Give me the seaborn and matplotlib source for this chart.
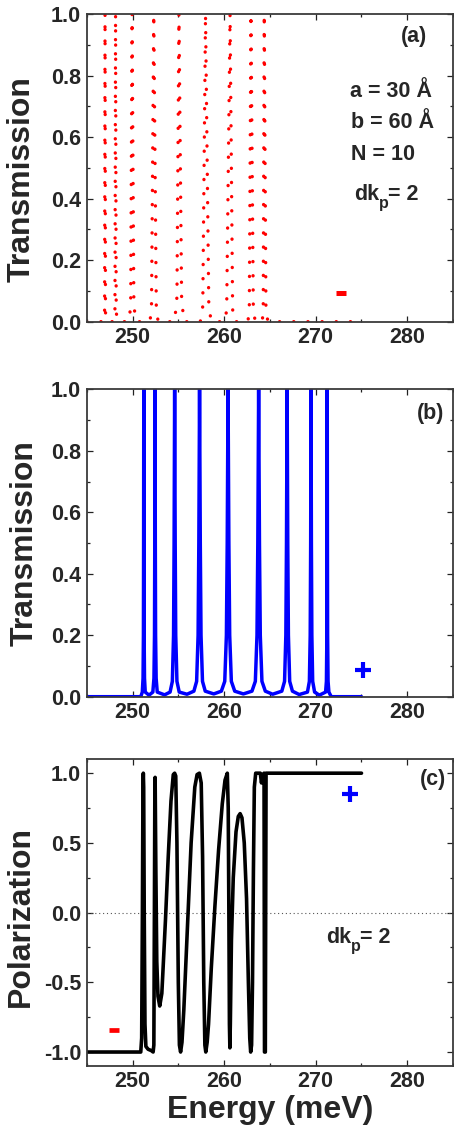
import matplotlib
matplotlib.use("Agg")
import matplotlib.pyplot as plt
import seaborn as sns
from matplotlib.ticker import MultipleLocator, FixedLocator, FixedFormatter

# ---------------- data ----------------
# panel (a): transmission, "-" spin (red dotted)
energy_a = [245.0, 246.85, 246.95, 247.0, 247.05, 247.2, 247.9, 248.08, 248.15, 248.22, 248.4,
            249.6, 249.8, 249.95, 250.15, 250.4, 251.9, 252.07, 252.32, 252.6, 252.8,
            254.6, 254.85, 255.07, 255.36, 255.6, 257.4, 257.67, 257.97, 258.33, 258.6,
            260.1, 260.28, 260.65, 260.93, 261.1, 262.6, 262.75, 262.93, 263.19, 263.4,
            264.15, 264.27, 264.38, 264.57, 264.8, 275.0]
trans_a = [0.0, 0.0, 0.03, 1.0, 0.03, 0.0, 0.0, 0.03, 1.0, 0.03, 0.0,
           0.0, 0.05, 1.0, 0.05, 0.0, 0.0, 0.04, 1.0, 0.04, 0.0,
           0.0, 0.08, 1.0, 0.08, 0.0, 0.0, 0.05, 1.0, 0.05, 0.0,
           0.0, 0.04, 1.0, 0.04, 0.0, 0.0, 0.04, 1.0, 0.04, 0.0,
           0.0, 0.03, 1.0, 0.03, 0.0, 0.0]

# panel (b): transmission, "+" spin (blue)
energy_b = [245.0, 250.9, 251.07, 251.15, 251.19, 251.21, 251.23, 251.25, 251.27, 251.31, 251.39,
            251.8, 252.22, 252.34, 252.40, 252.43, 252.46, 252.49, 252.52, 252.58, 252.70,
            253.5, 254.1, 254.35, 254.48, 254.54, 254.6, 254.66, 254.72, 254.85, 255.1,
            255.95, 256.7, 257.0, 257.16, 257.24, 257.32, 257.40, 257.48, 257.64, 257.94,
            258.87, 259.7, 260.07, 260.25, 260.34, 260.43, 260.52, 260.61, 260.79, 261.16,
            262.1, 263.04, 263.41, 263.59, 263.68, 263.77, 263.86, 263.95, 264.13, 264.5,
            265.3, 266.3, 266.6, 266.74, 266.81, 266.88, 266.95, 267.02, 267.16, 267.46,
            268.2, 269.1, 269.31, 269.40, 269.45, 269.49, 269.53, 269.58, 269.67, 269.88,
            270.4, 271.08, 271.17, 271.22, 271.24, 271.26, 271.28, 271.30, 271.35, 271.44,
            271.7, 275.0]
trans_b = [0.0, 0.0, 0.015, 0.06, 0.2, 0.5, 1.0, 0.5, 0.2, 0.06, 0.015,
           0.005, 0.015, 0.06, 0.2, 0.5, 1.0, 0.5, 0.2, 0.06, 0.015,
           0.006, 0.015, 0.05, 0.2, 0.5, 1.0, 0.5, 0.2, 0.05, 0.015,
           0.008, 0.018, 0.05, 0.2, 0.5, 1.0, 0.5, 0.2, 0.05, 0.018,
           0.009, 0.018, 0.05, 0.2, 0.5, 1.0, 0.5, 0.2, 0.05, 0.018,
           0.009, 0.018, 0.05, 0.2, 0.5, 1.0, 0.5, 0.2, 0.05, 0.018,
           0.008, 0.018, 0.05, 0.2, 0.5, 1.0, 0.5, 0.2, 0.05, 0.018,
           0.007, 0.015, 0.05, 0.2, 0.5, 1.0, 0.5, 0.2, 0.05, 0.015,
           0.005, 0.015, 0.05, 0.2, 0.5, 1.0, 0.5, 0.2, 0.05, 0.015,
           0.0, 0.0]

# panel (c): spin polarization (black)
energy_c = [245.0, 250.9, 251.0, 251.08, 251.14, 251.18, 251.22, 251.28, 251.36, 251.46,
            251.7, 252.06, 252.25, 252.33, 252.39, 252.44, 252.47, 252.55, 252.65, 252.78,
            252.97, 253.2, 253.3, 253.6, 253.9, 254.2, 254.45, 254.6, 254.72, 254.85,
            255.0, 255.12, 255.25, 255.4, 255.6, 256.0, 256.4, 256.8, 257.05, 257.3,
            257.5, 257.65, 257.78, 257.9, 258.0, 258.15, 258.3, 258.6, 259.0, 259.4,
            259.8, 260.1, 260.35, 260.45, 260.52, 260.58, 260.63, 260.68, 260.8, 261.0,
            261.3, 261.55, 261.75, 261.95, 262.2, 262.45, 262.65, 262.8, 262.9, 263.0,
            263.1, 263.2, 263.3, 263.45, 263.95, 264.08, 264.22, 264.36, 264.41, 264.5,
            264.58, 275.0]
pol_c = [-1.0, -1.0, -0.9, 0.0, 0.9, 1.0, 0.9, 0.0, -0.8, -0.96,
         -0.98, -0.99, -1.0, -0.95, 0.0, 0.9, 0.97, 0.3, -0.35, -0.6,
         -0.67, -0.58, -0.45, -0.05, 0.4, 0.8, 0.99, 1.0, 0.98, 0.5,
         -0.5, -0.95, -1.0, -0.93, -0.7, -0.1, 0.5, 0.9, 0.99, 1.0,
         0.93, 0.4, -0.5, -0.95, -1.0, -0.93, -0.8, -0.4, 0.05, 0.45,
         0.78, 0.95, 1.0, 0.75, 0.0, -0.8, -0.97, -0.8, -0.2, 0.25,
         0.58, 0.69, 0.71, 0.68, 0.5, 0.1, -0.5, -0.9, -1.0, -0.95,
         -0.5, 0.3, 0.9, 1.0, 1.0, 0.93, 0.99, 1.0, -1.0, -1.0,
         1.0, 1.0]

# spin symbols
minus_a = (272.8, 0.092)
plus_b = (275.2, 0.087)
minus_c = (248.0, -0.843)
plus_c = (273.73, 0.85)

x_ticks = [250, 260, 270, 280]
x_ticklabels = ["250", "260", "270", "280"]
yt_trans = [0.0, 0.2, 0.4, 0.6, 0.8, 1.0]
yt_trans_labels = ["0.0", "0.2", "0.4", "0.6", "0.8", "1.0"]
yt_pol = [-1.0, -0.5, 0.0, 0.5, 1.0]
yt_pol_labels = ["-1.0", "-0.5", "0.0", "0.5", "1.0"]

# ---------------- style ----------------
sns.set_style("ticks")
plt.rcParams["font.family"] = ["Liberation Sans", "DejaVu Sans"]
plt.rcParams["font.weight"] = "bold"
plt.rcParams["axes.unicode_minus"] = False

TICK_FS = 15.5
LABEL_FS = 23
ANN_FS = 15.5

fig = plt.figure(figsize=(4.54, 11.31), dpi=100)
ax_a = fig.add_axes([0.191, 0.7156, 0.807, 0.272])
ax_b = fig.add_axes([0.191, 0.3840, 0.807, 0.2718])
ax_c = fig.add_axes([0.191, 0.0575, 0.807, 0.2712])


def style_axis(ax, yt, ytl, yminor):
    ax.set_xlim(245, 285)
    ax.xaxis.set_major_locator(FixedLocator(x_ticks))
    ax.xaxis.set_major_formatter(FixedFormatter(x_ticklabels))
    ax.xaxis.set_minor_locator(MultipleLocator(5))
    ax.yaxis.set_major_locator(FixedLocator(yt))
    ax.yaxis.set_major_formatter(FixedFormatter(ytl))
    ax.yaxis.set_minor_locator(MultipleLocator(yminor))
    ax.tick_params(which="both", direction="in", top=True, right=True,
                   width=0.9, color="#222222", labelsize=TICK_FS)
    ax.tick_params(which="major", length=4.2)
    ax.tick_params(which="minor", length=2.4)
    ax.tick_params(axis="x", pad=3.5)
    ax.tick_params(axis="y", pad=4)
    for lab in ax.get_xticklabels() + ax.get_yticklabels():
        lab.set_fontweight("bold")
    for sp in ax.spines.values():
        sp.set_linewidth(1.3)
        sp.set_color("#3a3a3a")
    ax.set_xlabel("")
    ax.set_ylabel("")


def dkp_label(ax, x, y):
    """'dk' with subscript 'p' followed by '= 2'."""
    ax.text(x, y, "dk", fontsize=ANN_FS, ha="left", va="baseline")
    ax.annotate("p", xy=(x, y), xytext=(18.3, -6.0), textcoords="offset points",
                fontsize=11.5, ha="left", va="baseline")
    ax.annotate("= 2", xy=(x, y), xytext=(24.6, 0), textcoords="offset points",
                fontsize=ANN_FS, ha="left", va="baseline")


# ---------- (a) ----------
sns.lineplot(x=energy_a, y=trans_a, ax=ax_a, color="#ff0000", lw=2.4,
             linestyle=(0, (0.05, 4.2)), dash_capstyle="round",
             estimator=None, sort=False)
style_axis(ax_a, yt_trans, yt_trans_labels, 0.1)
ax_a.set_ylim(0, 1)
ax_a.plot([minus_a[0]], [minus_a[1]], marker="_", ms=7.7, mew=3.6,
          color="#ff0000", ls="none")
ax_a.text(280.7, 0.928, "(a)", fontsize=ANN_FS, ha="center", va="center")
ax_a.text(273.7, 0.731, "a = 30 Å", fontsize=ANN_FS, ha="left", va="baseline")
ax_a.text(273.8, 0.630, "b = 60 Å", fontsize=ANN_FS, ha="left", va="baseline")
ax_a.text(273.9, 0.525, "N = 10", fontsize=ANN_FS, ha="left", va="baseline")
dkp_label(ax_a, 274.15, 0.395)
ax_a.set_ylabel("Transmission", fontsize=LABEL_FS, fontweight="bold", va="center")
ax_a.yaxis.set_label_coords(-0.177, 0.464)

# ---------- (b) ----------
sns.lineplot(x=energy_b, y=trans_b, ax=ax_b, color="#0000ff", lw=2.5,
             estimator=None, sort=False)
style_axis(ax_b, yt_trans, yt_trans_labels, 0.1)
ax_b.set_ylim(0, 1)
ax_b.plot([plus_b[0]], [plus_b[1]], marker="+", ms=11, mew=3.0,
          color="#0000ff", ls="none")
ax_b.text(282.5, 0.92, "(b)", fontsize=ANN_FS, ha="center", va="center")
ax_b.set_ylabel("Transmission", fontsize=LABEL_FS, fontweight="bold", va="center")
ax_b.yaxis.set_label_coords(-0.170, 0.5)

# ---------- (c) ----------
ax_c.axhline(0.0, color="#555555", lw=0.8, ls=(0, (1, 2.5)))
sns.lineplot(x=energy_c, y=pol_c, ax=ax_c, color="black", lw=2.6,
             estimator=None, sort=False)
style_axis(ax_c, yt_pol, yt_pol_labels, 0.25)
ax_c.set_ylim(-1.1, 1.1)
ax_c.plot([minus_c[0]], [minus_c[1]], marker="_", ms=7.5, mew=3.4,
          color="#ff0000", ls="none")
ax_c.plot([plus_c[0]], [plus_c[1]], marker="+", ms=11, mew=3.0,
          color="#0000ff", ls="none")
ax_c.text(282.8, 0.952, "(c)", fontsize=ANN_FS, ha="center", va="center")
dkp_label(ax_c, 271.1, -0.215)
ax_c.set_ylabel("Polarization", fontsize=LABEL_FS, fontweight="bold", va="center")
ax_c.yaxis.set_label_coords(-0.181, 0.487)
ax_c.set_xlabel("Energy (meV)", fontsize=LABEL_FS, fontweight="bold", va="baseline")
ax_c.xaxis.set_label_coords(0.5, -0.171)

fig.savefig("out.png", dpi=100)
